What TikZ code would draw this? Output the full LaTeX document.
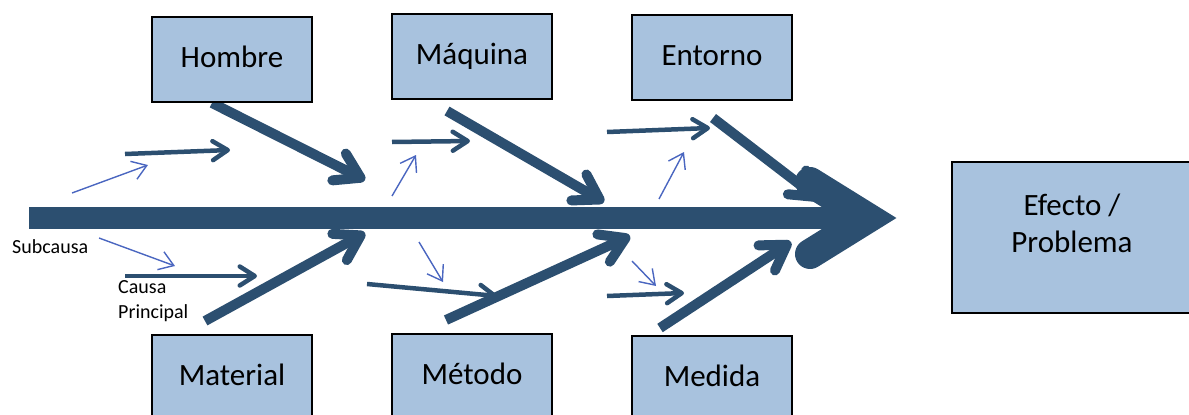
\documentclass[tikz,border=0pt]{standalone}
\usepackage{fontspec}
\setmainfont{Carlito}
\usetikzlibrary{arrows.meta}

\definecolor{bonecol}{RGB}{44,79,112}
\definecolor{twigcol}{RGB}{74,102,192}
\definecolor{boxfill}{RGB}{168,194,222}

\begin{document}
\begin{tikzpicture}[x=1pt,y=-1pt,
  catbox/.style={draw=black, line width=1.6pt, fill=boxfill, minimum width=160pt,
    minimum height=85pt, inner sep=0pt, text height=22pt, text depth=7pt,
    font=\fontsize{31}{37}\selectfont},
  spine/.style={draw=bonecol, line width=22pt},
  headstroke/.style={draw=bonecol, line width=30pt, line join=miter, line cap=round},
  bone/.style={draw=bonecol, line width=10pt,
    -{Straight Barb[length=24pt,width=30pt,round]}},
  rib/.style={draw=bonecol, line width=4.5pt,
    -{Straight Barb[length=15pt,width=19pt,round]}},
  twig/.style={draw=twigcol, line width=1.4pt,
    -{Straight Barb[length=14pt,width=19pt]}},
  note/.style={inner sep=0pt, font=\fontsize{20}{25}\selectfont}
]
\useasboundingbox (0,0) rectangle (1189,415);

% main spine and its head
\coordinate (tail) at (29,218);
\coordinate (neck) at (850,218);
\coordinate (headup) at (810,182);
\coordinate (headtip) at (868,218);
\coordinate (headlow) at (810,254);
\draw[spine] (tail) -- (neck);
\draw[headstroke] (headup) -- (headtip) -- (headlow);

% main causes
\coordinate (h0) at (212,103);  \coordinate (h1) at (365,180);
\coordinate (q0) at (447,111);  \coordinate (q1) at (604,202);
\coordinate (e0) at (713,118);  \coordinate (e1) at (820,200);
\coordinate (m0) at (205,321);  \coordinate (m1) at (365,233);
\coordinate (t0) at (446,320);  \coordinate (t1) at (630,236);
\coordinate (d0) at (660,328);  \coordinate (d1) at (791,242);
\draw[bone] (h0) -- (h1);
\draw[bone] (q0) -- (q1);
\draw[bone] (e0) -- (e1);
\draw[bone] (m0) -- (m1);
\draw[bone] (t0) -- (t1);
\draw[bone] (d0) -- (d1);

% sub-causes
\coordinate (ra0) at (125,154); \coordinate (ra1) at (230,150);
\coordinate (rb0) at (392,142); \coordinate (rb1) at (470,141);
\coordinate (rc0) at (607,132); \coordinate (rc1) at (710,128);
\coordinate (rd0) at (125,276); \coordinate (rd1) at (257,276);
\coordinate (re0) at (367,284); \coordinate (re1) at (497,296);
\coordinate (rf0) at (607,296); \coordinate (rf1) at (684,293);
\draw[rib] (ra0) -- (ra1);
\draw[rib] (rb0) -- (rb1);
\draw[rib] (rc0) -- (rc1);
\draw[rib] (rd0) -- (rd1);
\draw[rib] (re0) -- (re1);
\draw[rib] (rf0) -- (rf1);

% finer sub-causes
\coordinate (ta0) at (72,193);  \coordinate (ta1) at (148,165);
\coordinate (tb0) at (99,238);  \coordinate (tb1) at (175,266);
\coordinate (tc0) at (392,196); \coordinate (tc1) at (416,155);
\coordinate (td0) at (419,242); \coordinate (td1) at (443,282);
\coordinate (te0) at (659,199); \coordinate (te1) at (684,152);
\coordinate (tf0) at (632,261); \coordinate (tf1) at (656,286);
\draw[twig] (ta0) -- (ta1);
\draw[twig] (tb0) -- (tb1);
\draw[twig] (tc0) -- (tc1);
\draw[twig] (td0) -- (td1);
\draw[twig] (te0) -- (te1);
\draw[twig] (tf0) -- (tf1);

% category boxes
\node[catbox] (hombre)   at (232,59.5)  {Hombre};
\node[catbox] (maquina)  at (472,56.5)  {Máquina};
\node[catbox] (entorno)  at (712,57.5)  {Entorno};
\node[catbox] (material) at (232,377.5) {Material};
\node[catbox] (metodo)   at (472,376.5) {Método};
\node[catbox] (medida)   at (712,378.5) {Medida};

% effect box
\node[draw=black, line width=1.6pt, fill=boxfill, minimum width=240pt,
  minimum height=151pt, inner sep=0pt] (efecto) at (1072,237.5) {};
\node[inner sep=0pt, align=center, font=\fontsize{31}{37}\selectfont]
  (efectotxt) at (1072,223.5) {Efecto /\\Problema};

% legend labels
\node[note, anchor=base west] (subcausa) at (12,253) {Subcausa};
\node[note, anchor=west, align=left] (causa) at (118,301) {Causa\\Principal};
\end{tikzpicture}
\end{document}
